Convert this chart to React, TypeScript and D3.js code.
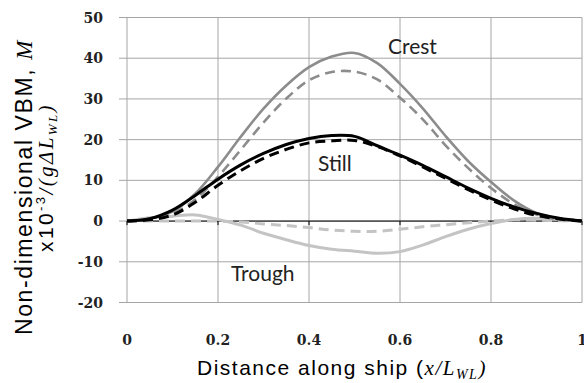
import React from "react";
import * as d3 from "d3";

// positions along the ship, x / L_WL
const stations = [0, 0.05, 0.1, 0.15, 0.2, 0.25, 0.3, 0.35, 0.4, 0.45, 0.5, 0.55, 0.6, 0.65, 0.7, 0.75, 0.8, 0.85, 0.9, 0.95, 1];

const crestSolid = [0, 0.6, 2.3, 6.7, 13.3, 20.7, 27.6, 33.3, 37.8, 40.4, 41.3, 38.8, 33.7, 27.7, 20.9, 14.7, 9.6, 5.1, 2.0, 0.6, 0];
const crestDashed = [0, 0.4, 1.8, 5.3, 10.9, 17.5, 24.2, 30.1, 34.6, 36.6, 36.7, 34.8, 30.3, 25, 18.6, 13, 8.1, 4.2, 1.6, 0.4, 0];
const stillSolid = [0, 0.6, 2.7, 6.3, 10.3, 13.8, 16.6, 18.8, 20.3, 21, 20.8, 18.5, 16.2, 13.7, 10.9, 8.1, 5.6, 3.5, 1.9, 0.7, 0];
const stillDashed = [0, 0.3, 1.5, 4.6, 8.8, 12.4, 15.4, 17.6, 19.2, 19.7, 19.8, 18.3, 16, 13.3, 10.5, 7.7, 5.2, 3, 1.4, 0.5, 0];
const troughSolid = [0, 0.8, 1.2, 1.5, 0.4, -1.0, -3, -4.6, -6, -6.9, -7.4, -7.9, -7.5, -5.9, -3.8, -2, -0.6, 0.4, 0.7, 0.4, 0];
const troughDashed = [0, 0, 0, 0, 0, -0.2, -0.7, -1.1, -1.6, -2.2, -2.5, -2.5, -2.0, -1.4, -0.9, -0.4, 0, 0.3, 0.2, 0.1, 0];

const xTicks = [0, 0.2, 0.4, 0.6, 0.8, 1];
const yTicks = [-20, -10, 0, 10, 20, 30, 40, 50];
const xTickLabels = ["0", "0.2", "0.4", "0.6", "0.8", "1"];

const series = [
  { values: troughDashed, color: "#c4c4c4", width: 3, dash: "10,6" },
  { values: troughSolid, color: "#c4c4c4", width: 3, dash: "" },
  { values: crestDashed, color: "#8c8c8c", width: 2.6, dash: "10,6" },
  { values: crestSolid, color: "#8c8c8c", width: 2.6, dash: "" },
  { values: stillDashed, color: "#000", width: 3, dash: "10,6" },
  { values: stillSolid, color: "#000", width: 3, dash: "" },
];

const label = "Lato, 'Open Sans', sans-serif";
const arial = "'Liberation Sans', Arial, sans-serif";
const serif = "'DejaVu Serif', 'Liberation Serif', serif";
const math = "'Liberation Serif', serif";

export default function App() {
  const width = 584;
  const height = 383;
  const x = d3.scaleLinear().domain([0, 1]).range([127, 582]);
  const y = d3.scaleLinear().domain([-20, 50]).range([302.5, 17.5]);

  const line = d3
    .line<number>()
    .x((_, i) => x(stations[i]))
    .y((d) => y(d))
    .curve(d3.curveCatmullRom.alpha(0.5));

  return (
    <svg width={width} height={height} style={{ position: "absolute", left: 0, top: 0, background: "#fff" }}>
      {/* grid */}
      <g stroke="#a6a6a6" strokeWidth={1}>
        {yTicks.map((t) => (
          <line key={`h-${t}`} x1={x(0)} x2={x(1)} y1={y(t)} y2={y(t)} />
        ))}
        {xTicks.map((t) => (
          <line key={`v-${t}`} x1={x(t)} x2={x(t)} y1={y(50)} y2={y(-20)} />
        ))}
        {yTicks.map((t) => (
          <line key={`yt-${t}`} x1={x(0) - 8} x2={x(0)} y1={y(t)} y2={y(t)} />
        ))}
      </g>
      <line x1={x(0)} x2={x(1)} y1={y(0)} y2={y(0)} stroke="#000" strokeWidth={1} />
      {xTicks.map((t) => (
        <line key={`xt-${t}`} x1={x(t)} x2={x(t)} y1={y(0)} y2={y(0) + 4} stroke="#000" strokeWidth={1} />
      ))}

      {/* curves */}
      {series.map((s, i) => (
        <path
          key={i}
          d={line(s.values) ?? ""}
          fill="none"
          stroke={s.color}
          strokeWidth={s.width}
          strokeDasharray={s.dash || undefined}
        />
      ))}

      {/* curve labels */}
      <g fontFamily={label} fontSize={21} fill="#222">
        <text x={388} y={54}>Crest</text>
        <text x={318} y={171}>Still</text>
        <text x={231} y={281}>Trough</text>
      </g>

      {/* tick labels */}
      <g fontFamily={serif} fontWeight="bold" fontSize={14} fill="#222">
        {yTicks.map((t) => (
          <text key={`yl-${t}`} x={103} y={y(t) + 5} textAnchor="end">
            {t}
          </text>
        ))}
        {xTicks.map((t, i) => (
          <text key={`xl-${t}`} x={x(t)} y={345} textAnchor="middle">
            {xTickLabels[i]}
          </text>
        ))}
      </g>

      {/* axis titles */}
      <text x={197} y={375} fontFamily={arial} fontSize={21} letterSpacing={1.5} fill="#000">
        Distance along ship (
        <tspan fontFamily={math} fontStyle="italic">x/L</tspan>
        <tspan fontFamily={math} fontStyle="italic" fontSize={14} dy={4}>WL</tspan>
        <tspan fontFamily={math} fontStyle="italic" dy={-4}>)</tspan>
      </text>
      <g transform="translate(32,335) rotate(-90)">
        <text fontFamily={arial} fontSize={23} letterSpacing={1.6} fill="#000">
          Non-dimensional VBM, <tspan fontFamily={math} fontStyle="italic">M</tspan>
        </text>
      </g>
      <g transform="translate(53,252) rotate(-90)">
        <text fontFamily={arial} fontSize={21} letterSpacing={2.4} fill="#000">
          x10
          <tspan fontSize={13} dy={-8}>-3</tspan>
          <tspan fontFamily={math} fontStyle="italic" dy={8}>/(gΔL</tspan>
          <tspan fontFamily={math} fontStyle="italic" fontSize={13} dy={4}>WL</tspan>
          <tspan fontFamily={math} fontStyle="italic" dy={-4}>)</tspan>
        </text>
      </g>
    </svg>
  );
}
